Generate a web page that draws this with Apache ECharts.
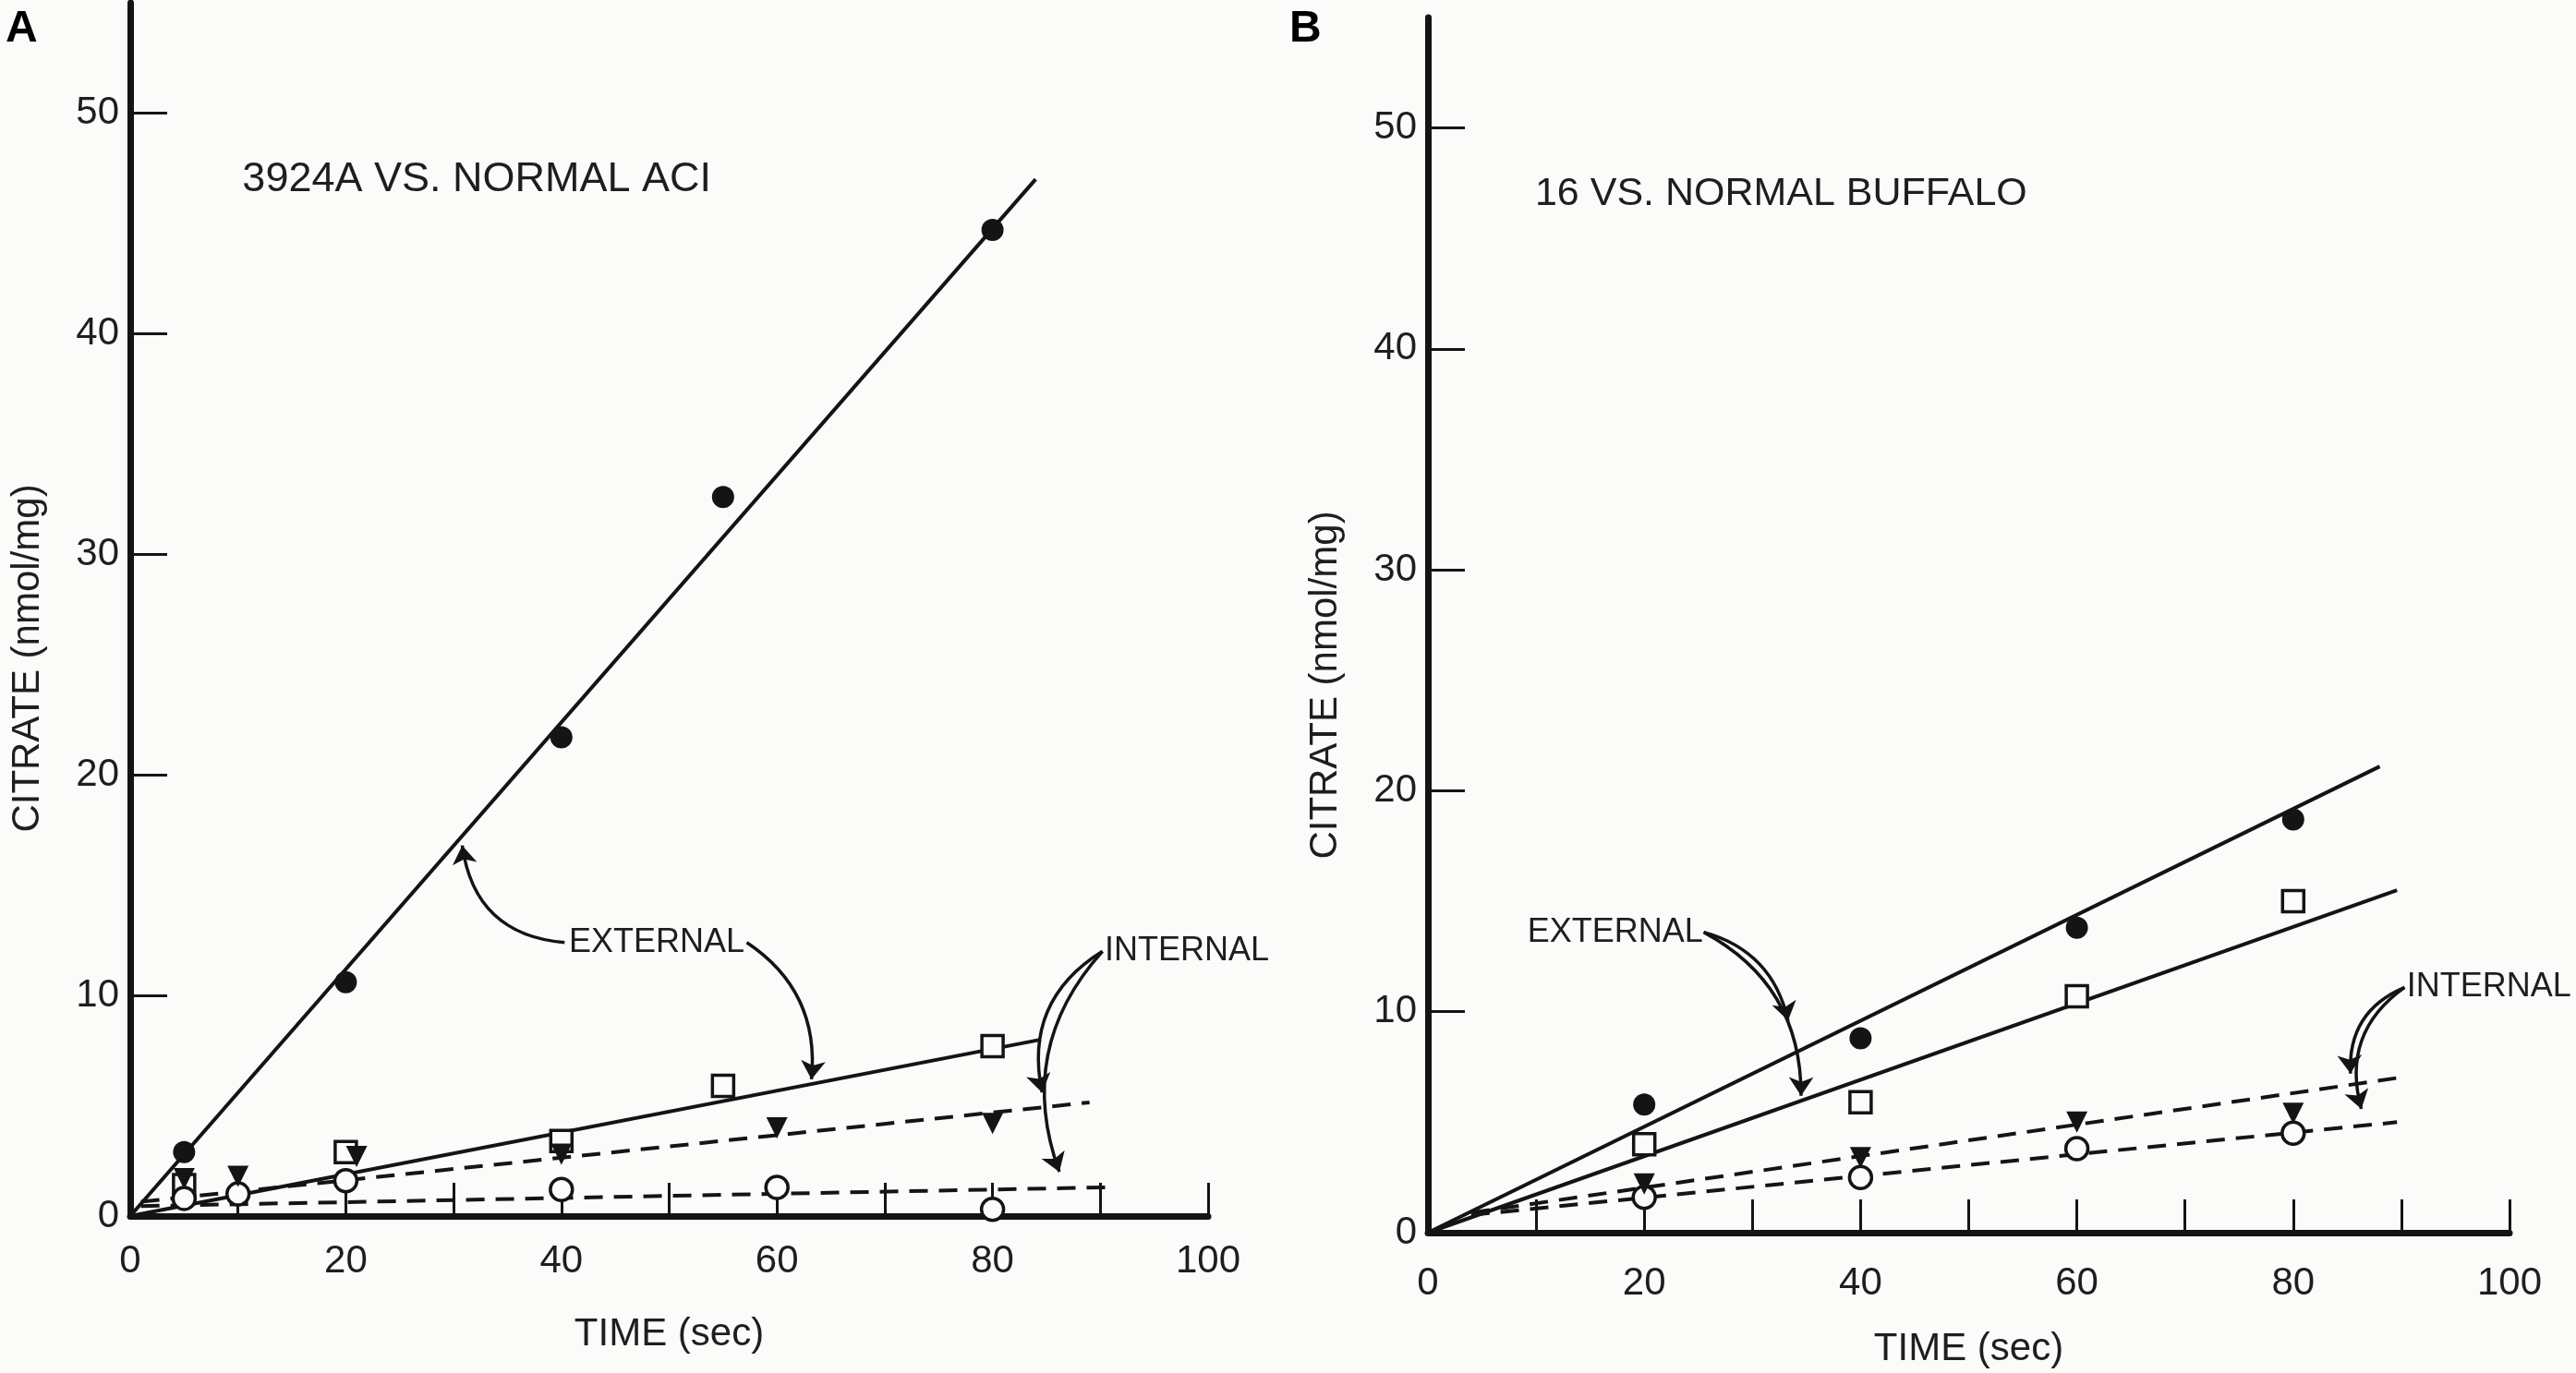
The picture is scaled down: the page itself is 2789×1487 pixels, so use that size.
<!DOCTYPE html>
<html>
<head>
<meta charset="utf-8">
<title>Citrate uptake</title>
<script src="https://cdn.jsdelivr.net/npm/echarts@6/dist/echarts.min.js"></script>
<style>
html,body{margin:0;padding:0;background:#fbfbf9;}
#chart{width:2789px;height:1487px;}
</style>
</head>
<body>
<div id="chart"></div>
<script>
// 坐标轴刻度
var timeTicks = [10, 20, 30, 40, 50, 60, 70, 80, 90, 100];
var timeLabels = [0, 20, 40, 60, 80, 100];
var citrateTicks = [10, 20, 30, 40, 50];
var citrateLabels = [0, 10, 20, 30, 40, 50];

// A：3924A vs. normal ACI
var aFilledTime = [5, 20, 40, 55, 80];
var aFilledCitrate = [2.9, 10.6, 21.7, 32.6, 44.7];
var aSquareTime = [5, 20, 40, 55, 80];
var aSquareCitrate = [1.4, 2.9, 3.4, 5.9, 7.7];
var aTriTime = [5, 10, 21, 40, 60, 80];
var aTriCitrate = [1.7, 1.8, 2.7, 2.8, 4.0, 4.2];
var aOpenTime = [5, 10, 20, 40, 60, 80];
var aOpenCitrate = [0.8, 1.0, 1.6, 1.2, 1.3, 0.3];
// 拟合直线（两端点）
var aFitFilled = [[0, 0], [84, 47]];
var aFitSquare = [[0, 0], [84.5, 8.0]];
var aFitTri = [[1, 0.65], [89, 5.15]];
var aFitOpen = [[1, 0.45], [90.5, 1.3]];

// B：16 vs. normal Buffalo
var bTime = [20, 40, 60, 80];
var bFilledCitrate = [5.8, 8.8, 13.8, 18.7];
var bSquareCitrate = [4.0, 5.9, 10.7, 15.0];
var bTriCitrate = [2.2, 3.4, 5.0, 5.4];
var bOpenCitrate = [1.6, 2.5, 3.8, 4.5];
var bFitFilled = [[0, 0], [88, 21.1]];
var bFitSquare = [[0, 0], [89.6, 15.5]];
var bFitTri = [[4, 0.9], [89.6, 7.0]];
var bFitOpen = [[4, 0.8], [89.6, 5.0]];

// 标注文字和箭头（数据坐标）
var aExtLabel = [40.7, 12.4];
var aExtArrows = [[[40.3, 12.4], [30.8, 16.8], 0.4], [[57.2, 12.4], [63.2, 6.2], 0.3]];
var aIntLabel = [90.4, 12.0];
var aIntArrows = [[[90.2, 12.0], [84.6, 5.6], -0.35], [[90.2, 12.0], [86.2, 2.0], -0.3]];
var bExtLabel = [9.2, 13.6];
var bExtArrows = [[[25.5, 13.6], [33.3, 9.6], 0.3], [[25.5, 13.6], [34.5, 6.2], 0.3]];
var bIntLabel = [90.5, 11.1];
var bIntArrows = [[[90.3, 11.1], [85.3, 7.2], -0.35], [[90.3, 11.1], [86.3, 5.6], -0.35]];

var ink = '#141414';
var paper = '#fbfbf9';
var font = "'Liberation Sans', Arial, sans-serif";

function pairs(xs, ys) {
    return xs.map(function (x, i) { return [x, ys[i]]; });
}

function xAxisOf(idx, labelGap, nameGap) {
    return {
        type: 'value', gridIndex: idx, min: 0, max: 100, interval: 10,
        name: 'TIME (sec)', nameLocation: 'middle', nameGap: nameGap,
        nameTextStyle: {color: '#1e1e1e', fontSize: 42, fontFamily: font},
        axisLine: {lineStyle: {color: ink, width: 7}},
        axisTick: {inside: true, length: 36, customValues: timeTicks, lineStyle: {color: ink, width: 3}},
        axisLabel: {margin: labelGap, customValues: timeLabels, color: '#1e1e1e', fontSize: 42, fontFamily: font},
        splitLine: {show: false}
    };
}

function yAxisOf(idx, shift) {
    return {
        type: 'value', gridIndex: idx, min: 0, max: 55, interval: 10,
        name: 'CITRATE (nmol/mg)', nameLocation: 'middle', nameRotate: 90, nameGap: 90,
        nameTextStyle: {color: '#1e1e1e', fontSize: 42, fontFamily: font, padding: [0, shift, 0, 0]},
        axisLine: {show: true, lineStyle: {color: ink, width: 7}},
        axisTick: {show: true, inside: true, length: 40, customValues: citrateTicks, lineStyle: {color: ink, width: 3}},
        axisLabel: {margin: 12, customValues: citrateLabels, color: '#1e1e1e', fontSize: 42, fontFamily: font},
        splitLine: {show: false}
    };
}

function points(idx, data, kind) {
    var s = {
        type: 'scatter', xAxisIndex: idx, yAxisIndex: idx, data: data, z: 5,
        symbolSize: 24, itemStyle: {color: ink, opacity: 1}
    };
    if (kind === 'square') {
        s.symbol = 'rect';
        s.symbolSize = 23;
        s.itemStyle = {color: paper, borderColor: ink, borderWidth: 3.5, opacity: 1};
    } else if (kind === 'tri') {
        s.symbol = 'triangle';
        s.symbolRotate = 180;
        s.symbolSize = 23;
    } else if (kind === 'open') {
        s.symbol = 'circle';
        s.itemStyle = {color: paper, borderColor: ink, borderWidth: 3.5, opacity: 1};
    } else {
        s.symbol = 'circle';
    }
    return s;
}

function fitLine(idx, data, dashed) {
    return {
        type: 'line', xAxisIndex: idx, yAxisIndex: idx, data: data, z: 3,
        symbol: 'none', silent: true,
        lineStyle: {color: ink, width: 4, type: dashed ? [20, 12] : 'solid'}
    };
}

function arrows(idx, list) {
    return {
        type: 'lines', coordinateSystem: 'cartesian2d', xAxisIndex: idx, yAxisIndex: idx, z: 4,
        symbol: ['none', 'arrow'], symbolSize: 20, silent: true,
        lineStyle: {color: ink, width: 3.5, opacity: 1},
        data: list.map(function (a) {
            return {coords: [a[0], a[1]], lineStyle: {curveness: a[2]}};
        })
    };
}

var myChart = echarts.init(document.getElementById('chart'));

var option = {
    backgroundColor: paper,
    animation: false,
    grid: [
        {left: 141, top: 3, width: 1167, height: 1314},
        {left: 1546, top: 19, width: 1171, height: 1316}
    ],
    xAxis: [xAxisOf(0, 28, 107), xAxisOf(1, 34, 105)],
    yAxis: [yAxisOf(0, 106), yAxisOf(1, 130)],
    series: [
        fitLine(0, aFitFilled, false),
        fitLine(0, aFitSquare, false),
        fitLine(0, aFitTri, true),
        fitLine(0, aFitOpen, true),
        points(0, pairs(aFilledTime, aFilledCitrate), 'filled'),
        points(0, pairs(aSquareTime, aSquareCitrate), 'square'),
        points(0, pairs(aOpenTime, aOpenCitrate), 'open'),
        points(0, pairs(aTriTime, aTriCitrate), 'tri'),
        arrows(0, aExtArrows.concat(aIntArrows)),

        fitLine(1, bFitFilled, false),
        fitLine(1, bFitSquare, false),
        fitLine(1, bFitTri, true),
        fitLine(1, bFitOpen, true),
        points(1, pairs(bTime, bFilledCitrate), 'filled'),
        points(1, pairs(bTime, bSquareCitrate), 'square'),
        points(1, pairs(bTime, bOpenCitrate), 'open'),
        points(1, pairs(bTime, bTriCitrate), 'tri'),
        arrows(1, bExtArrows.concat(bIntArrows))
    ]
};

myChart.setOption(option);

// 文字标注：用坐标系换算位置
function note(idx, at, text, size) {
    var p = myChart.convertToPixel({gridIndex: idx}, at);
    return {
        type: 'text', x: p[0], y: p[1], z: 10,
        style: {text: text, fill: '#1e1e1e', font: size + 'px ' + font, textAlign: 'left', textVerticalAlign: 'middle'}
    };
}

myChart.setOption({
    graphic: [
        {type: 'text', left: 6, top: 8, style: {text: 'A', fill: '#000', font: 'bold 48px ' + font}},
        {type: 'text', left: 1396, top: 8, style: {text: 'B', fill: '#000', font: 'bold 48px ' + font}},
        note(0, [10.4, 47.0], '3924A VS. NORMAL ACI', 45),
        note(1, [9.9, 47.0], '16 VS. NORMAL BUFFALO', 43),
        note(0, aExtLabel, 'EXTERNAL', 36),
        note(0, aIntLabel, 'INTERNAL', 36),
        note(1, bExtLabel, 'EXTERNAL', 36),
        note(1, bIntLabel, 'INTERNAL', 36)
    ]
});
</script>
</body>
</html>
